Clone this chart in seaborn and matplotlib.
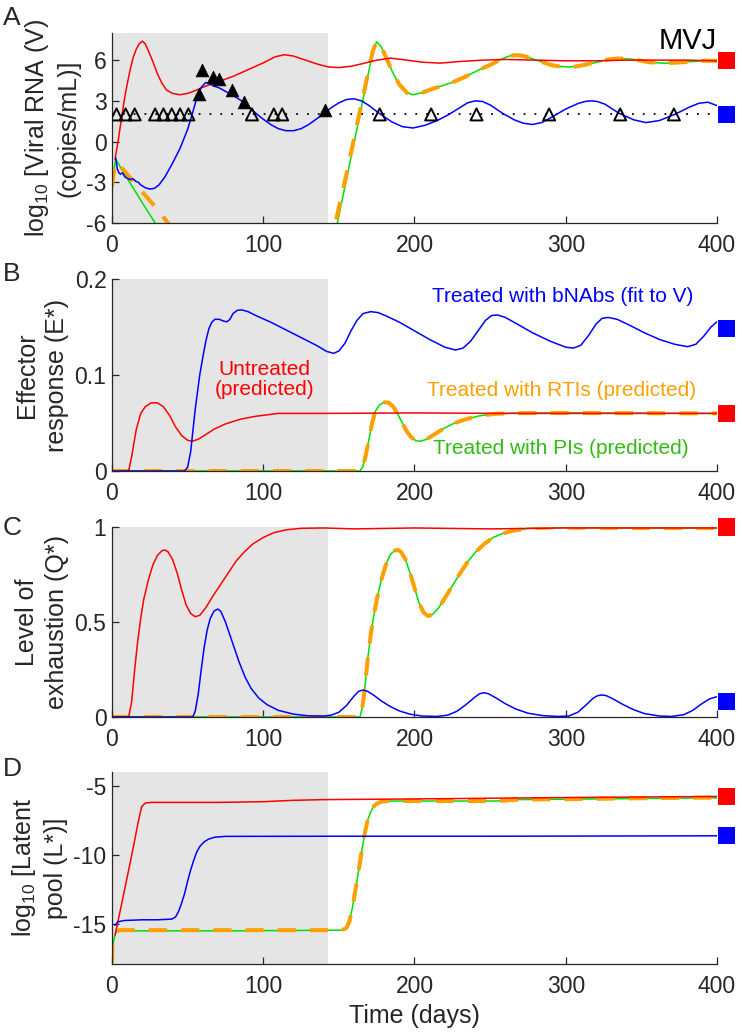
import numpy as np
import pandas as pd
import seaborn as sns
import matplotlib.pyplot as plt

# ---------------- data (time in days) ----------------
ART_END = 143      # end of the shaded treatment window
LOD = 2            # detection limit, log10 copies/mL
T_END = 406        # x position of the steady-state squares

# Panel A: log10 viral RNA
RED_A_X = [2, 4, 6, 8, 10, 12, 14, 16, 18, 20, 22, 24, 27, 30, 33, 36, 40, 45, 50, 55, 60, 65,
           70, 80, 90, 100, 108, 114, 120, 128, 136, 143, 150, 158, 166, 175, 184, 195, 205,
           217, 230, 245, 260, 280, 300, 320, 340, 360, 380, 400]
RED_A_Y = [-1.3, 0.0, 1.5, 3.0, 4.2, 5.3, 6.2, 6.8, 7.2, 7.4, 7.2, 6.7, 5.9, 5.0, 4.3, 3.8, 3.55,
           3.45, 3.55, 3.75, 4.0, 4.2, 4.4, 4.8, 5.3, 5.8, 6.25, 6.4, 6.3, 6.0, 5.7, 5.5, 5.45,
           5.55, 5.75, 6.0, 6.15, 6.0, 5.85, 5.78, 5.9, 6.0, 6.05, 6.0, 5.95, 5.95, 6.0, 6.0,
           6.0, 5.95]

BLUE_A_X = [2.5, 3.5, 4.5, 5.5, 7, 8.5, 10, 12, 14, 16, 17.5, 19, 22, 25, 28, 31, 35, 40, 45, 50,
            53, 56, 59, 62, 64, 67, 71, 75, 80, 85, 90, 95, 100, 105, 110, 115, 120, 125, 130,
            135, 140, 145, 150, 155, 160, 165, 170, 177, 185, 192, 199, 207, 215, 222, 230,
            235, 240, 245, 250, 258, 266, 272, 278, 284, 290, 300, 308, 313, 317, 321, 326,
            335, 345, 353, 362, 372, 382, 388, 394, 400]
BLUE_A_Y = [-1.2, -2.0, -2.3, -2.4, -2.3, -2.6, -2.7, -2.8, -2.75, -2.95, -3.0, -3.2, -3.4,
            -3.5, -3.45, -3.2, -2.6, -1.6, -0.5, 0.9, 2.0, 3.2, 4.0, 4.35, 4.3, 4.1, 3.95, 3.7,
            3.4, 3.05, 2.6, 2.1, 1.65, 1.25, 0.95, 0.8, 0.8, 0.95, 1.25, 1.65, 2.05, 2.5, 2.85,
            3.1, 3.15, 3.0, 2.65, 2.05, 1.45, 1.1, 1.0, 1.2, 1.55, 1.95, 2.5, 2.85, 3.0, 2.95,
            2.7, 2.1, 1.6, 1.35, 1.26, 1.4, 1.75, 2.4, 2.8, 2.96, 3.0, 2.95, 2.75, 2.1, 1.6,
            1.4, 1.55, 2.0, 2.55, 2.82, 2.9, 2.65]

GREEN_A_X = [0, 1, 2.5, 10, 20, 28.5, 32, 140, 149, 155, 160, 165, 170, 172.5, 175, 178, 182,
             186, 190, 195, 199, 205, 211, 218, 226, 234, 242, 250, 258, 262, 266, 270, 274,
             282, 290, 295, 301, 306, 310, 321, 328, 334, 340, 345, 355, 365, 378, 391, 400]
GREEN_A_Y = [-3.5, -2.3, -1.3, -2.7, -4.5, -6.0, -7.0, -7.0, -6.0, -2.8, -0.1, 2.6, 5.3, 6.7,
             7.35, 7.0, 6.0, 5.0, 4.2, 3.6, 3.45, 3.6, 3.85, 4.1, 4.4, 4.8, 5.25, 5.65, 6.1,
             6.28, 6.37, 6.35, 6.25, 5.95, 5.65, 5.55, 5.5, 5.52, 5.6, 5.85, 6.05, 6.12, 6.1,
             6.05, 5.85, 5.77, 5.85, 5.95, 5.95]

ORANGE_A_X = [0, 1.5, 3, 10, 20, 30, 37, 42, 140, 147.7, 155, 160, 165, 170, 172.5, 175, 178,
              182, 186, 190, 195, 199, 205, 211, 218, 226, 234, 242, 250, 258, 262, 266, 270,
              274, 282, 290, 295, 301, 306, 310, 321, 328, 334, 340, 345, 355, 365, 378, 391,
              400]
ORANGE_A_Y = [-3.3, -2.0, -1.5, -2.4, -3.7, -5.0, -6.0, -7.0, -7.0, -6.0, -2.4, 0.2, 2.8, 5.4,
              6.7, 7.35, 7.0, 6.0, 5.0, 4.2, 3.6, 3.45, 3.6, 3.85, 4.1, 4.4, 4.8, 5.25, 5.65,
              6.1, 6.28, 6.37, 6.35, 6.25, 5.95, 5.65, 5.55, 5.5, 5.52, 5.6, 5.85, 6.05, 6.12,
              6.1, 6.05, 5.85, 5.77, 5.85, 5.95, 5.95]

# measured viral load (filled) and below-detection samples (open)
OBS_X = [57.5, 59.5, 66.5, 70.5, 79.5, 87, 140.5]
OBS_Y = [3.5, 5.3, 4.75, 4.6, 3.8, 2.95, 2.35]
BLQ_X = [3, 9, 15, 28.5, 34, 39.5, 45, 50.5, 92.5, 107, 112.5, 177, 211, 241, 289, 336, 371.5]

# Panel B: effector response
RED_B_X = [0, 11, 13, 16, 19, 22, 26, 30, 34, 38, 42, 46, 50, 53, 57, 62, 68, 75, 85, 95, 110,
           140, 200, 260, 330, 400]
RED_B_Y = [0, 0, 0.015, 0.043, 0.060, 0.067, 0.071, 0.071, 0.067, 0.058, 0.046, 0.037, 0.032,
           0.031, 0.033, 0.038, 0.044, 0.049, 0.054, 0.057, 0.060, 0.060, 0.0605, 0.060,
           0.060, 0.060]

BLUE_B_X = [0, 48, 50, 52, 55, 58, 60, 62, 64, 66, 68, 71, 74, 76, 78, 80, 83, 86, 90, 95, 105,
            115, 125, 135, 142, 146.6, 150, 154, 158, 162, 166, 171, 176, 182, 190, 200, 210,
            220, 227, 232, 237, 242, 247, 251, 255, 260, 268, 278, 290, 300, 305, 310, 315,
            320, 324, 328, 334, 342, 352, 362, 372, 380.6, 386, 391, 396, 400]
BLUE_B_Y = [0, 0, 0.004, 0.02, 0.064, 0.1, 0.118, 0.135, 0.148, 0.155, 0.158, 0.158, 0.156,
            0.1555, 0.158, 0.164, 0.1675, 0.1677, 0.166, 0.162, 0.155, 0.147, 0.139, 0.131,
            0.1245, 0.1226, 0.125, 0.133, 0.146, 0.157, 0.164, 0.166, 0.165, 0.161, 0.155,
            0.146, 0.137, 0.129, 0.126, 0.128, 0.135, 0.146, 0.157, 0.162, 0.1625, 0.16,
            0.153, 0.144, 0.135, 0.129, 0.128, 0.131, 0.141, 0.153, 0.159, 0.16, 0.158, 0.152,
            0.144, 0.137, 0.132, 0.1295, 0.132, 0.14, 0.15, 0.1555]

GREEN_B_X = [0, 164, 166, 168, 170, 172, 174, 177, 180, 183, 186, 189, 192, 195, 198, 201, 204,
             208, 213, 219, 226, 234, 243, 253, 265, 300, 400]
GREEN_B_Y = [0, 0, 0.005, 0.018, 0.034, 0.05, 0.062, 0.069, 0.0715, 0.0712, 0.067, 0.059, 0.05,
             0.041, 0.035, 0.0315, 0.031, 0.033, 0.038, 0.044, 0.0496, 0.054, 0.0575, 0.0595,
             0.0603, 0.0605, 0.060]
ORANGE_B_X = GREEN_B_X
ORANGE_B_Y = GREEN_B_Y

# Panel C: exhaustion
RED_C_X = [0, 11, 13, 15, 17, 19, 21, 24, 27, 30, 33, 35, 37, 40, 43, 46, 49, 52, 55, 58, 62,
           67, 72, 77, 82, 87, 93, 100, 107, 115, 125, 140, 160, 200, 250, 300, 350, 400]
RED_C_Y = [0, 0, 0.08, 0.25, 0.4, 0.52, 0.62, 0.72, 0.8, 0.85, 0.875, 0.879, 0.87, 0.83, 0.76,
           0.67, 0.59, 0.545, 0.528, 0.535, 0.575, 0.64, 0.7, 0.76, 0.82, 0.865, 0.91, 0.945,
           0.97, 0.985, 0.993, 0.995, 0.99, 0.995, 0.99, 0.995, 0.995, 0.995]

BLUE_C_X = [0, 53.4, 55, 57, 59, 61, 63, 65, 67.5, 70, 72, 75, 78, 81, 84, 88, 92, 97, 102.5,
            110, 120, 130, 140, 145, 150, 155, 160, 163, 166, 169, 173, 178, 184, 190, 197,
            205, 215, 222, 228, 234, 240, 243, 246, 249, 254, 260, 267, 275, 285, 295, 302,
            308, 313, 318, 321, 324, 327, 332, 338, 345, 352, 362, 370, 378, 384, 390, 395,
            400]
BLUE_C_Y = [0, 0, 0.03, 0.12, 0.25, 0.37, 0.46, 0.52, 0.558, 0.568, 0.555, 0.5, 0.43, 0.36,
            0.29, 0.21, 0.15, 0.1, 0.065, 0.035, 0.015, 0.006, 0.005, 0.01, 0.025, 0.06, 0.11,
            0.135, 0.142, 0.135, 0.115, 0.085, 0.055, 0.032, 0.015, 0.005, 0.003, 0.01, 0.03,
            0.065, 0.105, 0.122, 0.128, 0.122, 0.1, 0.07, 0.042, 0.02, 0.007, 0.003, 0.005,
            0.025, 0.06, 0.098, 0.112, 0.116, 0.112, 0.092, 0.065, 0.038, 0.018, 0.005, 0.003,
            0.012, 0.035, 0.07, 0.095, 0.107]

GREEN_C_X = [0, 164, 165.5, 167, 169, 171, 173, 175, 178, 181, 184, 187, 189, 191, 194, 197,
             200, 203, 206, 209, 212, 216, 220, 225, 230, 235, 240, 246, 252, 258, 265, 275,
             290, 340, 400]
GREEN_C_Y = [0, 0, 0.05, 0.14, 0.3, 0.43, 0.53, 0.615, 0.72, 0.8, 0.855, 0.876, 0.879, 0.87,
             0.83, 0.76, 0.68, 0.6, 0.55, 0.531, 0.54, 0.575, 0.625, 0.69, 0.755, 0.815, 0.865,
             0.91, 0.945, 0.965, 0.98, 0.993, 0.998, 0.995, 0.995]
ORANGE_C_X = GREEN_C_X
ORANGE_C_Y = GREEN_C_Y

# Panel D: log10 latent pool
RED_D_X = [2, 3.8, 9.7, 14, 17, 19.6, 22, 26, 40, 70, 100, 120, 140, 200, 300, 400]
RED_D_Y = [-15.8, -14.9, -11.8, -9.5, -7.8, -6.5, -6.25, -6.2, -6.2, -6.2, -6.15, -6.05,
           -6.0, -5.95, -5.85, -5.77]

BLUE_D_X = [2, 3.8, 8, 20, 30, 39.5, 42, 44, 46, 48, 50, 52, 54, 56, 58, 61, 64, 68, 75, 150,
            250, 400]
BLUE_D_Y = [-15.1, -14.85, -14.75, -14.7, -14.7, -14.65, -14.5, -14.1, -13.5, -12.8, -11.9,
            -11.1, -10.4, -9.8, -9.4, -9.05, -8.85, -8.72, -8.66, -8.65, -8.65, -8.62]

GREEN_D_X = [0.2, 1.5, 3, 6, 20, 80, 152, 155, 157, 159, 161, 163, 165, 167, 169, 171, 173,
             175, 178, 182, 200, 255, 268, 300, 350, 400]
GREEN_D_Y = [-16.8, -16.0, -15.5, -15.5, -15.5, -15.5, -15.45, -15.3, -14.8, -13.8, -12.5,
             -11.2, -9.8, -8.5, -7.5, -6.9, -6.5, -6.3, -6.15, -6.1, -6.1, -6.1, -6.0, -5.97,
             -5.92, -5.87]

ORANGE_D_X = [0, 0.3, 1.5, 3, 5, 20, 80, 152, 155, 157, 159, 161, 163, 165, 167, 169, 171, 173,
              175, 178, 182, 200, 255, 268, 300, 350, 400]
ORANGE_D_Y = [-17.8, -16.6, -15.9, -15.55, -15.45, -15.45, -15.45, -15.45, -15.3, -14.8,
              -13.8, -12.5, -11.2, -9.8, -8.5, -7.5, -6.9, -6.5, -6.3, -6.15, -6.1, -6.1,
              -6.1, -6.0, -5.97, -5.9, -5.85]

# steady states (squares right of the axes): (untreated/red, bNAbs/blue)
SS_A = [6.0, 2.0]
SS_B = [0.06, 0.148]
SS_C = [1.0, 0.08]
SS_D = [-5.75, -8.6]

RED, BLUE, GREEN, ORANGE = "#ff0000", "#0000ff", "#00e000", "#ffa000"
INK = "#262626"

sns.set_style("ticks", {"xtick.direction": "in", "ytick.direction": "in",
                        "axes.edgecolor": INK, "xtick.color": INK, "ytick.color": INK})
plt.rcParams["font.family"] = ["Liberation Sans", "DejaVu Sans"]
plt.rcParams["mathtext.fontset"] = "custom"
plt.rcParams["mathtext.rm"] = "Liberation Sans"
plt.rcParams["mathtext.default"] = "regular"

W, H = 742, 1033
fig = plt.figure(figsize=(W / 100, H / 100), dpi=100)


def add_ax(top, bottom):
    left, right = 112, 717
    return fig.add_axes([left / W, 1 - bottom / H, (right - left) / W, (bottom - top) / H])


def line(ax, x, y, color, lw=1.1, **kw):
    sns.lineplot(x=x, y=y, ax=ax, color=color, lw=lw, estimator=None, sort=False,
                 legend=False, **kw)


def dashed(ax, x, y):
    line(ax, x, y, ORANGE, lw=2.9, linestyle=(0, (4.5, 3.5)), dash_capstyle="butt")


def style(ax, ylim, yticks, yticklabels, ylabel, ss):
    ax.axvspan(0, ART_END, color="#e5e5e5", lw=0, zorder=0)
    ax.set_xlim(0, 400)
    ax.set_ylim(*ylim)
    ax.set_xticks([0, 100, 200, 300, 400])
    ax.set_yticks(yticks)
    ax.set_yticklabels(yticklabels)
    ax.tick_params(labelsize=16.5, length=5, width=0.9, pad=4)
    ax.tick_params(axis="x", pad=8)
    for s in ["top", "right"]:
        ax.spines[s].set_visible(False)
    for s in ["left", "bottom"]:
        ax.spines[s].set_linewidth(0.9)
    ax.set_ylabel(ylabel, fontsize=18, labelpad=4, linespacing=1.3)
    ax.set_xlabel("")
    sns.scatterplot(x=[T_END, T_END], y=ss, ax=ax, marker="s", s=150,
                    hue=["r", "b"], palette=[RED, BLUE],
                    edgecolor="none", legend=False, clip_on=False, zorder=10)


# ---- A ----
ax = add_ax(33, 223)
ax.axhline(LOD, color="black", lw=1.3, linestyle=(0, (1, 5)), zorder=1)
line(ax, GREEN_A_X, GREEN_A_Y, GREEN)
dashed(ax, ORANGE_A_X, ORANGE_A_Y)
line(ax, RED_A_X, RED_A_Y, RED)
line(ax, BLUE_A_X, BLUE_A_Y, BLUE)
sns.scatterplot(x=BLQ_X, y=[LOD] * len(BLQ_X), ax=ax, marker="^", s=75, color="black",
                facecolors="none", edgecolor="black", linewidth=1.4, zorder=5, legend=False)
sns.scatterplot(x=OBS_X, y=OBS_Y, ax=ax, marker="^", s=85, color="black",
                edgecolor="black", linewidth=0.5, zorder=5, legend=False)
style(ax, (-6, 8), [-6, -3, 0, 3, 6], ["-6", "-3", "0", "3", "6"],
      "log$_{10}$ [Viral RNA (V)\n(copies/mL)]", SS_A)
ax.text(400, 8.45, "MVJ", ha="right", va="top", fontsize=21, color="black", clip_on=False)

# ---- B ----
ax = add_ax(279, 471)
line(ax, GREEN_B_X, GREEN_B_Y, GREEN)
dashed(ax, ORANGE_B_X, ORANGE_B_Y)
line(ax, RED_B_X, RED_B_Y, RED)
line(ax, BLUE_B_X, BLUE_B_Y, BLUE)
style(ax, (0, 0.2), [0, 0.1, 0.2], ["0", "0.1", "0.2"], "Effector\nresponse (E*)", SS_B)
ax.text(298, 0.1815, "Treated with bNAbs (fit to V)", color=BLUE, ha="center", va="center",
        fontsize=15)
ax.text(101, 0.095, "Untreated\n(predicted)", color=RED, ha="center", va="center",
        fontsize=15, linespacing=1.05)
ax.text(297, 0.084, "Treated with RTIs (predicted)", color=ORANGE, ha="center",
        va="center", fontsize=15)
ax.text(297, 0.0234, "Treated with PIs (predicted)", color="#33bb11", ha="center",
        va="center", fontsize=15)

# ---- C ----
ax = add_ax(527, 717)
line(ax, GREEN_C_X, GREEN_C_Y, GREEN)
dashed(ax, ORANGE_C_X, ORANGE_C_Y)
line(ax, RED_C_X, RED_C_Y, RED)
line(ax, BLUE_C_X, BLUE_C_Y, BLUE)
style(ax, (0, 1), [0, 0.5, 1], ["0", "0.5", "1"], "Level of\nexhaustion (Q*)", SS_C)

# ---- D ----
ax = add_ax(772, 964)
line(ax, GREEN_D_X, GREEN_D_Y, GREEN)
dashed(ax, ORANGE_D_X, ORANGE_D_Y)
line(ax, RED_D_X, RED_D_Y, RED)
line(ax, BLUE_D_X, BLUE_D_Y, BLUE)
style(ax, (-17.9, -4), [-15, -10, -5], ["-15", "-10", "-5"],
      "log$_{10}$ [Latent\npool (L*)]", SS_D)
ax.set_xlabel("Time (days)", fontsize=18, labelpad=4)

for letter, y in zip("ABCD", [6, 262, 516, 757]):
    fig.text(3 / W, 1 - y / H, letter, fontsize=19, ha="left", va="top")

fig.savefig("out.png", dpi=100)
